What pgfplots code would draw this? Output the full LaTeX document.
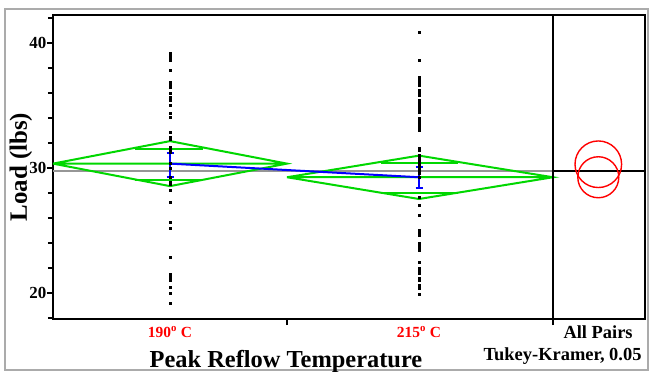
\documentclass[border=0pt]{standalone}
\usepackage{pgfplots}
\pgfplotsset{compat=1.18}
\usepackage{pgfplotstable}
\usepackage{fontspec}
\setmainfont{Liberation Serif}
\definecolor{jgreen}{RGB}{0,215,0}
\definecolor{jblue}{RGB}{0,0,255}
\definecolor{jred}{RGB}{255,0,0}
\definecolor{jgray}{RGB}{150,150,150}

% group 190 C (x = 117 in axis units), group 215 C (x = 366)
\pgfplotstableread{
x y
117 39.2
117 39.0
117 38.8
117 38.6
117 37.8
117 36.9
117 36.7
117 36.5
117 36.0
117 35.7
117 35.4
117 35.0
117 34.4
117 34.1
117 32.86
117 32.5
117 32.3
117 31.7
117 31.5
117 31.3
117 30.4
117 30.0
117 29.3
117 28.9
117 28.7
117 28.2
117 27.3
117 25.7
117 25.2
117 22.9
117 21.5
117 21.25
117 21.0
117 20.5
117 20.0
117 19.2
}\groupone
\pgfplotstableread{
x y
366 40.9
366 38.6
366 37.3
366 37.1
366 36.9
366 36.6
366 36.2
366 36.0
366 35.8
366 35.4
366 35.2
366 35.0
366 34.85
366 34.7
366 34.5
366 34.0
366 33.8
366 33.6
366 33.4
366 33.2
366 33.0
366 31.6
366 31.4
366 31.0
366 30.8
366 30.6
366 30.45
366 30.2
366 30.0
366 29.8
366 29.6
366 29.3
366 27.7
366 27.0
366 26.2
366 25.0
366 24.8
366 24.6
366 24.0
366 23.8
366 23.6
366 23.4
366 22.5
366 22.0
366 21.8
366 21.6
366 21.2
366 21.0
366 20.6
366 20.4
366 19.9
}\grouptwo

\begin{document}
\begin{tikzpicture}
\useasboundingbox (0,0) rectangle (650bp,372bp);
\draw[jgray!80, line width=1.5bp] (5bp,2bp) rectangle (648bp,363bp);
\begin{axis}[
  at={(53bp,53bp)}, anchor=south west,
  scale only axis, width=500bp, height=304bp,
  xmin=0, xmax=500, ymin=17.92, ymax=42.24,
  axis line style={line width=1.8bp},
  tick style={black, line width=1.3bp},
  tick align=outside,
  xtick pos=bottom, ytick pos=left,
  xtick={234,500}, xticklabels={},
  major tick length=6bp, minor tick length=5bp,
  ytick={20,30,40}, yticklabels={20,30,40},
  minor ytick={18,22,24,26,28,32,34,36,38,42},
  yticklabel style={font=\bfseries\fontsize{17}{17}\selectfont, inner sep=0.5bp},
  xlabel={Peak Reflow Temperature},
  xlabel style={at={(axis description cs:0.466,0)}, anchor=base, yshift=-48bp, font=\bfseries\fontsize{24.5}{24.5}\selectfont},
  ylabel={Load (lbs)},
  every axis y label/.style={at={(axis description cs:-0.064,0.5)}, rotate=90, anchor=center, font=\bfseries\fontsize{25}{25}\selectfont},
  clip=false,
]
% points
\addplot[only marks, mark=square*, mark size=1bp, black] table[x=x, y=y] {\groupone};
\addplot[only marks, mark=square*, mark size=1bp, black] table[x=x, y=y] {\grouptwo};
% grand mean
\addplot[jgray, line width=2bp] coordinates {(0,29.76) (500,29.76)};
% diamonds group 1
\addplot[jgreen, line width=2bp] coordinates {(0,30.35) (117,32.15) (234,30.35) (117,28.55) (0,30.35) (234,30.35)};
\addplot[jgreen, line width=2bp] coordinates {(82,31.55) (150,31.55)};
\addplot[jgreen, line width=2bp] coordinates {(82,29.0) (150,29.0)};
% diamonds group 2
\addplot[jgreen, line width=2bp] coordinates {(234,29.26) (366,30.99) (500,29.26) (366,27.52) (234,29.26) (500,29.26)};
\addplot[jgreen, line width=2bp] coordinates {(328,30.37) (405,30.37)};
\addplot[jgreen, line width=2bp] coordinates {(328,28.02) (405,28.02)};
% means line and error bars
\addplot[jblue, line width=2bp] coordinates {(117,30.35) (366,29.26)};
\addplot[jblue, line width=1.8bp] coordinates {(117,29.3) (117,31.2)};
\addplot[jblue, line width=1.8bp] coordinates {(113.5,29.3) (120.5,29.3)};
\addplot[jblue, line width=1.8bp] coordinates {(113.5,31.2) (120.5,31.2)};
\addplot[jblue, line width=1.8bp] coordinates {(366,28.42) (366,30.1)};
\addplot[jblue, line width=1.8bp] coordinates {(362.5,28.42) (369.5,28.42)};
\addplot[jblue, line width=1.8bp] coordinates {(362.5,30.1) (369.5,30.1)};
% category labels
\node[anchor=base, text=jred, font=\bfseries\fontsize{15.5}{15.5}\selectfont] at (axis description cs:0.234,0) [yshift=-18bp] {190\textsuperscript{o} C};
\node[anchor=base, text=jred, font=\bfseries\fontsize{15.5}{15.5}\selectfont] at (axis description cs:0.732,0) [yshift=-18bp] {215\textsuperscript{o} C};
\end{axis}
\begin{axis}[
  at={(553bp,53bp)}, anchor=south west,
  scale only axis, width=92bp, height=304bp,
  xmin=0, xmax=92, ymin=17.92, ymax=42.24,
  axis line style={line width=1.8bp},
  xtick=\empty, ytick=\empty,
  clip=false,
]
\addplot[black, line width=1.8bp] coordinates {(0,29.76) (92,29.76)};
\draw[jred, line width=1.4bp] (axis cs:45.3,30.3) circle[radius=23.3bp];
\draw[jred, line width=1.4bp] (axis cs:45.3,29.26) circle[radius=20.5bp];
\node[anchor=base, font=\bfseries\fontsize{18.5}{18.5}\selectfont] at (axis description cs:0.49,0) [yshift=-19bp] {All Pairs};
\node[anchor=base east, font=\bfseries\fontsize{18.5}{18.5}\selectfont] at (axis description cs:1,0) [yshift=-41bp] {Tukey-Kramer, 0.05};
\end{axis}
\end{tikzpicture}
\end{document}
